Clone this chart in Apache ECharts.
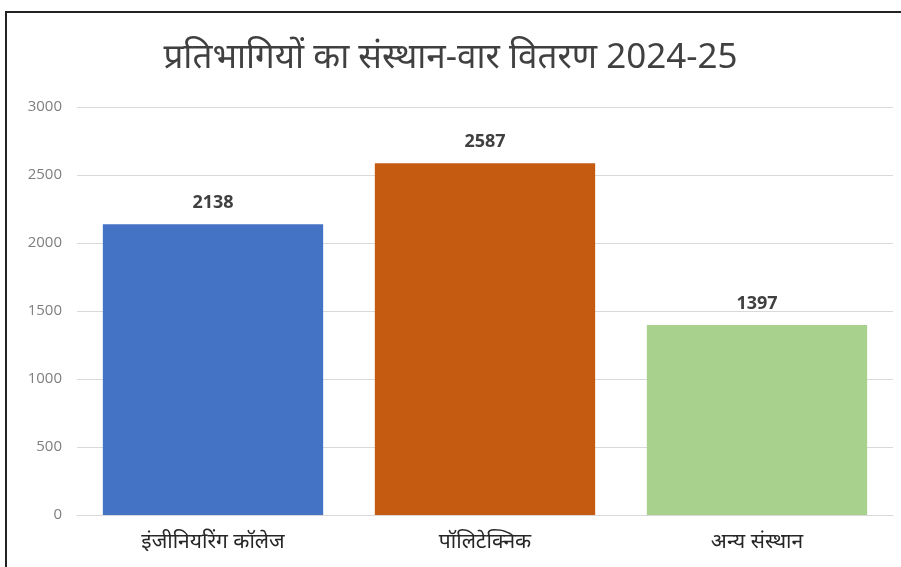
<!DOCTYPE html>
<html><head><meta charset="utf-8">
<script src="https://cdn.jsdelivr.net/npm/echarts@6/dist/echarts.min.js"></script>
<style>
html,body{margin:0;padding:0;background:#fff;}
#frame{position:absolute;left:5px;top:11px;width:910px;height:580px;border:2px solid #222;box-sizing:border-box;}
#c{position:absolute;left:0;top:0;width:901px;height:567px;}
</style></head>
<body>
<div id="frame"></div>
<div id="c"></div>
<script>
const titleText = 'प्रतिभागियों का संस्थान-वार वितरण 2024-25';
const categories = ['इंजीनियरिंग कॉलेज', 'पॉलिटेक्निक', 'अन्य संस्थान'];
const values = [2138, 2587, 1397];
const barColors = ['#4472C4', '#C55A11', '#A9D18E'];
const yMin = 0, yMax = 3000, yStep = 500;

const chart = echarts.init(document.getElementById('c'));
chart.setOption({
  animation: false,
  title: {text: titleText, left: 'center', top: 36,
    textStyle: {fontFamily: 'Noto Sans, sans-serif', fontSize: 35, fontWeight: 'normal', color: '#404040'}},
  grid: {left: 77, right: 8, top: 107, bottom: 52, containLabel: false},
  xAxis: {type: 'category', data: categories,
    axisLine: {lineStyle: {color: '#d9d9d9'}}, axisTick: {show: false},
    axisLabel: {color: '#262626', fontSize: 21, margin: 17, fontFamily: 'Noto Sans, sans-serif'}},
  yAxis: {type: 'value', min: yMin, max: yMax, interval: yStep,
    axisLine: {show: false}, axisTick: {show: false},
    splitLine: {lineStyle: {color: '#d9d9d9'}},
    axisLabel: {color: '#7f7f7f', fontSize: 15, margin: 15, fontFamily: 'Open Sans, sans-serif',
      formatter: v => String(v)}},
  series: [{type: 'bar', barWidth: '81%',
    data: values.map((v, i) => ({value: v, itemStyle: {color: barColors[i]}})),
    label: {show: true, position: 'top', distance: 12, fontSize: 18, fontWeight: 'bold', color: '#404040', fontFamily: 'Open Sans, sans-serif'}}]
});
</script>
</body></html>
